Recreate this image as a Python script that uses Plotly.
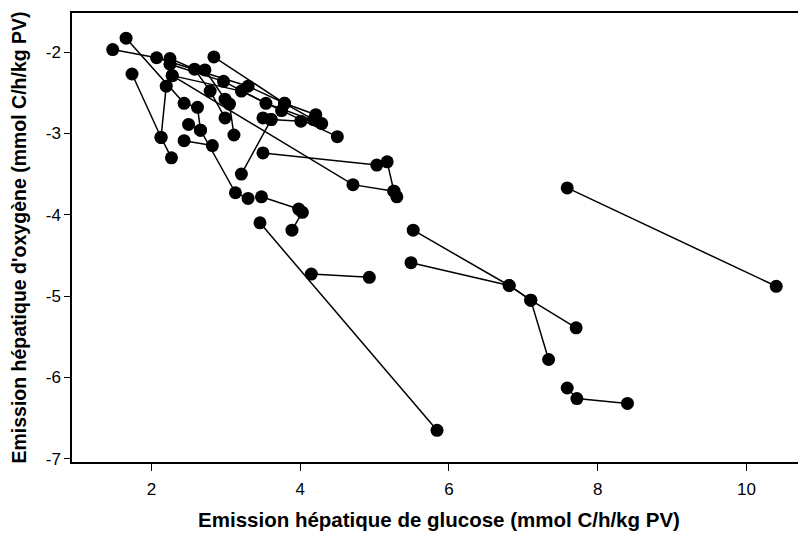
import plotly.graph_objects as go

# Each row is one measurement; 'series' groups the measurements joined by a line
series = [1,1,1,1,1, 2,2,2,2, 3,3,3,3, 4,4,4,4, 5,5,5,
          6,6,6,6,6,6, 7,7, 8,8,8, 9,9, 10,10, 11,11,11,
          12,12,12,12, 13,13,13, 14,14, 15,15,15,15,15,
          16,16, 17,17, 18,18, 19,19, 20,20,20,20, 21,21,21,21,
          22,22, 23,23,23]

glucose = [1.48, 2.07, 3.30, 3.79, 4.21,
           2.25, 2.58, 2.79, 2.99,
           2.25, 2.97, 3.54, 4.29,
           2.28, 3.21, 3.75, 4.50,
           2.28, 4.71, 5.26,
           1.66, 2.44, 2.62, 2.66, 3.13, 3.30,
           2.50, 2.66,
           1.74, 2.13, 2.27,
           2.20, 2.13,
           2.44, 2.82,
           2.84, 3.79, 4.18,
           2.72, 2.99, 3.05, 3.11,
           3.50, 3.61, 4.01,
           3.21, 3.61,
           3.50, 5.03, 5.17, 5.26, 5.30,
           3.48, 3.98,
           3.89, 4.03,
           3.46, 5.84,
           4.15, 4.93,
           5.52, 6.81, 7.10, 7.71,
           5.49, 6.81, 7.10, 7.34,
           7.59, 10.40,
           7.59, 7.72, 8.40]

oxygen = [-1.97, -2.07, -2.42, -2.63, -2.77,
          -2.08, -2.21, -2.48, -2.81,
          -2.15, -2.36, -2.63, -2.88,
          -2.29, -2.48, -2.72, -3.04,
          -2.29, -3.63, -3.71,
          -1.83, -2.63, -2.68, -2.96, -3.73, -3.80,
          -2.89, -2.96,
          -2.27, -3.05, -3.30,
          -2.42, -3.05,
          -3.09, -3.15,
          -2.06, -2.63, -2.83,
          -2.22, -2.58, -2.64, -3.02,
          -2.81, -2.83, -2.85,
          -3.50, -2.83,
          -3.24, -3.39, -3.35, -3.71, -3.78,
          -3.78, -3.93,
          -4.19, -3.97,
          -4.10, -6.65,
          -4.73, -4.77,
          -4.19, -4.87, -5.05, -5.39,
          -4.59, -4.87, -5.05, -5.78,
          -3.67, -4.88,
          -6.13, -6.26, -6.32]

x_ticks = [2, 4, 6, 8, 10]
y_ticks = [-7, -6, -5, -4, -3, -2]

# build line paths with gaps between series
lx, ly = [], []
prev = None
for s, gx, oy in zip(series, glucose, oxygen):
    if prev is not None and s != prev:
        lx.append(None)
        ly.append(None)
    lx.append(gx)
    ly.append(oy)
    prev = s

fig = go.Figure()
fig.add_trace(go.Scatter(x=lx, y=ly, mode="lines",
                         line=dict(color="black", width=1.5),
                         hoverinfo="skip", showlegend=False))
fig.add_trace(go.Scatter(x=glucose, y=oxygen, mode="markers",
                         marker=dict(color="black", size=13, line=dict(width=0)),
                         showlegend=False))

fig.update_layout(
    width=798, height=527,
    margin=dict(l=64, r=0, t=5, b=73),
    paper_bgcolor="white", plot_bgcolor="white",
    font=dict(family="Liberation Sans, Arial, sans-serif", color="black"),
)
fig.update_xaxes(
    range=[0.933, 10.80], tickvals=x_ticks, ticktext=[str(v) for v in x_ticks],
    automargin=False,
    showgrid=False, zeroline=False, showline=True, linecolor="black", linewidth=1.5,
    mirror=True, ticks="outside", ticklen=7, tickcolor="black", tickwidth=1.2,
    ticklabelstandoff=4,
    tickfont=dict(family="Liberation Sans, Arial, sans-serif", size=17),
    title=dict(text="<b>Emission hépatique de glucose (mmol C/h/kg PV)</b>",
               font=dict(family="Liberation Sans, Arial, sans-serif", size=20.5),
               standoff=14),
)
fig.update_yaxes(
    range=[-7.04, -1.52], tickvals=y_ticks, ticktext=[str(v) for v in y_ticks],
    automargin=False,
    showgrid=False, zeroline=False, showline=True, linecolor="black", linewidth=1.5,
    mirror=False, ticks="outside", ticklen=6, tickcolor="black", tickwidth=1.2,
    tickfont=dict(family="Liberation Sans, Arial, sans-serif", size=17),
    title=dict(text="<b>Emission hépatique d'oxygène (mmol C/h/kg PV)</b>",
               font=dict(family="Liberation Sans, Arial, sans-serif", size=19.5),
               standoff=18),
)

fig.write_html("out.html")
